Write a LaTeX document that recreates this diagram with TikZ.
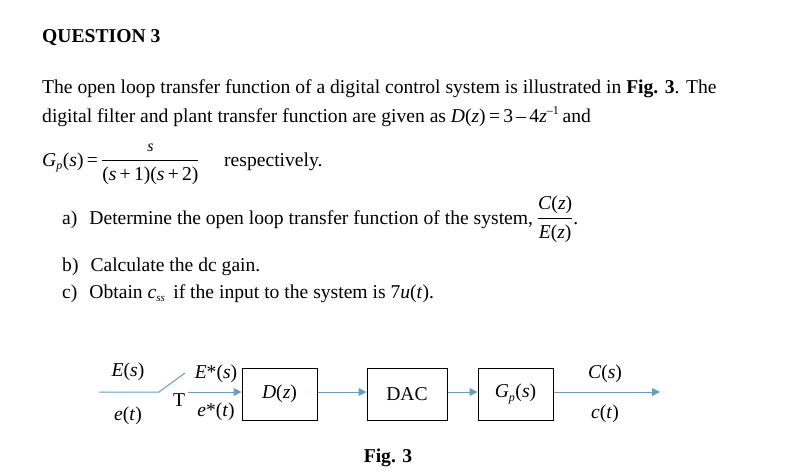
\documentclass[tikz,border=0pt]{standalone}
\usepackage{amsmath}
\usepackage{fontspec}
\setmainfont{Liberation Serif}
\usetikzlibrary{arrows.meta}
\newcommand{\fs}{\fontsize{19.6}{23}\selectfont}
\newcommand{\tx}[1]{\text{#1}}
\begin{document}
\begin{tikzpicture}[x=1pt,y=-1pt,
  txt/.style={anchor=base west,inner sep=0pt,font=\fs},
  lbl/.style={inner sep=0pt,font=\fs},
  blk/.style={draw=black,line width=1pt,minimum width=75pt,minimum height=52pt,inner sep=0pt,font=\fs},
  wire/.style={draw=blue!40!cyan!60!black!60,line width=1pt},
  arr/.style={wire,-{Triangle[length=8pt,width=8pt]}}]
\useasboundingbox (0,0) rectangle (808,474);
\node[txt,font=\fs\bfseries] (t) at (42,42) {QUESTION 3};
\node[txt] (l1) at (42,93) {The open loop transfer function of a digital control system is illustrated in \textbf{Fig. 3}. The};
\node[txt] (l2) at (42,122) {digital filter and plant transfer function are given as \textit{D}(\textit{z})\,=\,3\,\tx{–}\,4\textit{z}$^{\tx{\fontsize{12}{12}\selectfont –1}}$\,and};
\node[txt] (l3) at (42,166) {\textit{G}$_{\tx{\fontsize{12}{12}\selectfont\itshape p}}$(\textit{s})\,=\,$\dfrac{\tx{\fontsize{16}{16}\selectfont\itshape s}}{\tx{(\textit{s}\,+\,1)(\textit{s}\,+\,2)}}$};
\node[txt] (l3b) at (224,166) {respectively.};
\node[txt] (la) at (62,224) {a)\hspace{12pt}Determine the open loop transfer function of the system,\hspace{4pt}$\dfrac{\tx{\textit{C}(\textit{z})}}{\tx{\textit{E}(\textit{z})}}$.};
\node[txt] (lb) at (62,271) {b)\hspace{12pt}Calculate the dc gain.};
\node[txt] (lc) at (62,298) {c)\hspace{12pt}Obtain \textit{c}$_{\tx{\fontsize{11}{11}\selectfont\itshape ss}}$\hspace{3pt} if the input to the system is 7\textit{u}(\textit{t}).};

\node[blk] (D) at (279.5,394) {\textit{D}(\textit{z})};
\node[blk,minimum width=80pt] (DAC) at (407,394) {DAC};
\node[blk] (G) at (515.5,394) {\textit{G}$_{\tx{\fontsize{12}{12}\selectfont\itshape p}}$(\textit{s})};
\coordinate (in) at (99,392);
\coordinate (sw) at (159,392);
\coordinate (swt) at (185,373);
\coordinate (s2) at (188,392);
\coordinate (out) at (660,392);
\draw[wire] (in) -- (sw) -- (swt);
\draw[arr] (s2) -- (D.west|-s2);
\draw[arr] (D.east|-s2) -- (DAC.west|-s2);
\draw[arr] (DAC.east|-s2) -- (G.west|-s2);
\draw[arr] (G.east|-out) -- (out);
\node[lbl] (Es) at (128,372) {\textit{E}(\textit{s})};
\node[lbl] (et) at (128,416) {\textit{e}(\textit{t})};
\node[lbl] (T) at (179,400) {T};
\node[lbl] (Ess) at (216,374) {\textit{E}*(\textit{s})};
\node[lbl] (ess) at (216,412) {\textit{e}*(\textit{t})};
\node[lbl] (Cs) at (605,374) {\textit{C}(\textit{s})};
\node[lbl] (ct) at (605,414) {\textit{c}(\textit{t})};
\node[lbl,font=\fs\bfseries] (fig) at (388,458) {Fig. 3};
\end{tikzpicture}
\end{document}
